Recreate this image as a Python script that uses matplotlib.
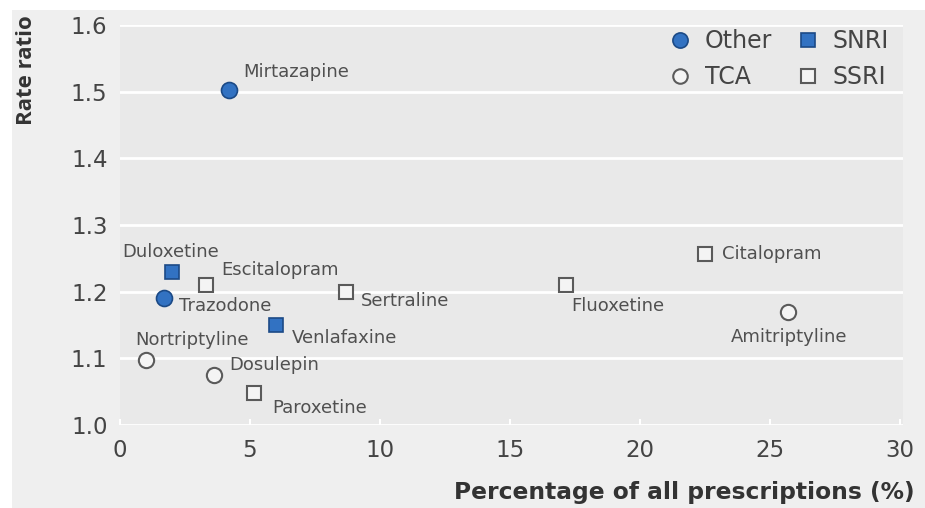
import matplotlib
matplotlib.use("Agg")
import matplotlib.pyplot as plt
from matplotlib.lines import Line2D
from matplotlib.patches import Rectangle

# ---- data ----
drugs = ["Mirtazapine", "Duloxetine", "Escitalopram", "Trazodone", "Sertraline",
         "Venlafaxine", "Nortriptyline", "Dosulepin", "Paroxetine", "Fluoxetine",
         "Citalopram", "Amitriptyline"]
pct = [4.2, 2.0, 3.3, 1.7, 8.7, 6.0, 1.0, 3.6, 5.15, 17.15, 22.5, 25.7]
rate_ratio = [1.503, 1.23, 1.21, 1.19, 1.20, 1.15, 1.097, 1.075, 1.048, 1.21, 1.257, 1.17]
drug_class = ["Other", "SNRI", "SSRI", "Other", "SSRI", "SNRI", "TCA", "TCA", "SSRI",
              "SSRI", "SSRI", "TCA"]
legend_order = ["Other", "TCA", "SNRI", "SSRI"]
x_ticks = [0, 5, 10, 15, 20, 25, 30]
y_ticks = [1.0, 1.1, 1.2, 1.3, 1.4, 1.5, 1.6]

# ---- styles ----
BLUE = "#3272c2"
BLUE_EDGE = "#1c4a86"
HOLLOW = "#f4f4f4"
HOLLOW_EDGE = "#5a5a5a"
styles = {
    "Other": dict(marker="o", ms=11.5, mfc=BLUE, mec=BLUE_EDGE, mew=1.2),
    "SNRI": dict(marker="s", ms=10, mfc=BLUE, mec=BLUE_EDGE, mew=1.2),
    "TCA": dict(marker="o", ms=11, mfc=HOLLOW, mec=HOLLOW_EDGE, mew=1.5),
    "SSRI": dict(marker="s", ms=10, mfc=HOLLOW, mec=HOLLOW_EDGE, mew=1.5),
}
# label offsets in pixels (dx, dy, ha)
label_offsets = {
    "Mirtazapine": (14, 18, "left"),
    "Duloxetine": (-1, 20, "center"),
    "Escitalopram": (15, 15, "left"),
    "Trazodone": (15, -8, "left"),
    "Sertraline": (15, -9, "left"),
    "Venlafaxine": (16, -13, "left"),
    "Nortriptyline": (-11, 20, "left"),
    "Dosulepin": (16, 10, "left"),
    "Paroxetine": (18, -15, "left"),
    "Fluoxetine": (5, -21, "left"),
    "Citalopram": (17, 0, "left"),
    "Amitriptyline": (1, -25, "center"),
}

plt.rcParams["font.family"] = "DejaVu Sans"
TXT = "#444444"

W, H = 925, 508
fig = plt.figure(figsize=(W / 100, H / 100), dpi=100, facecolor="white")
fig.patches.append(Rectangle((12 / W, 0), 1 - 12 / W, 1 - 10 / H, transform=fig.transFigure,
                             facecolor="#efefef", edgecolor="none", zorder=-10))

ax = fig.add_axes([120 / W, (H - 425) / H, (903 - 120) / W, (425 - 25) / H])
ax.set_facecolor("#e9e9e9")
for s in ax.spines.values():
    s.set_visible(False)

ax.set_xlim(0, 30.12)
ax.set_ylim(1.0, 1.6)
ax.set_xticks(x_ticks)
ax.set_yticks(y_ticks)
ax.set_xticklabels([str(t) for t in x_ticks])
ax.set_yticklabels([f"{t:.1f}" for t in y_ticks])
ax.tick_params(axis="x", direction="in", color="white", length=4, width=1.5,
               pad=10, labelsize=16.5, labelcolor=TXT)
ax.tick_params(axis="y", length=0, pad=9, labelsize=16.5, labelcolor=TXT)
ax.yaxis.grid(True, color="white", linewidth=2)
ax.set_axisbelow(True)

for name, xv, yv, cl in zip(drugs, pct, rate_ratio, drug_class):
    ax.plot([xv], [yv], linestyle="none", zorder=3, **styles[cl])
    dx, dy, ha = label_offsets[name]
    ax.annotate(name, (xv, yv), xytext=(dx, dy), textcoords="offset pixels",
                ha=ha, va="center", fontsize=13, color="#505050", zorder=4)

handles = [Line2D([], [], linestyle="none", label=c, **styles[c]) for c in legend_order]
leg = ax.legend(handles=handles, ncol=2, frameon=False, loc="upper right",
                bbox_to_anchor=(1.0, 1.025), fontsize=17, handletextpad=0.45,
                columnspacing=0.9, labelspacing=0.5, borderaxespad=0.2,
                handlelength=1.2, markerscale=0.95)
for t in leg.get_texts():
    t.set_color(TXT)

fig.text(915 / W, 1 - 493 / H, "Percentage of all prescriptions (%)", ha="right",
         va="center", fontsize=16.8, fontweight="bold", color="#333333")
fig.text(27 / W, 1 - 70 / H, "Rate ratio", ha="center", va="center", rotation=90,
         fontsize=16, fontweight="bold", color="#333333", family="Open Sans")

fig.savefig("out.png", dpi=100, facecolor=fig.get_facecolor())
